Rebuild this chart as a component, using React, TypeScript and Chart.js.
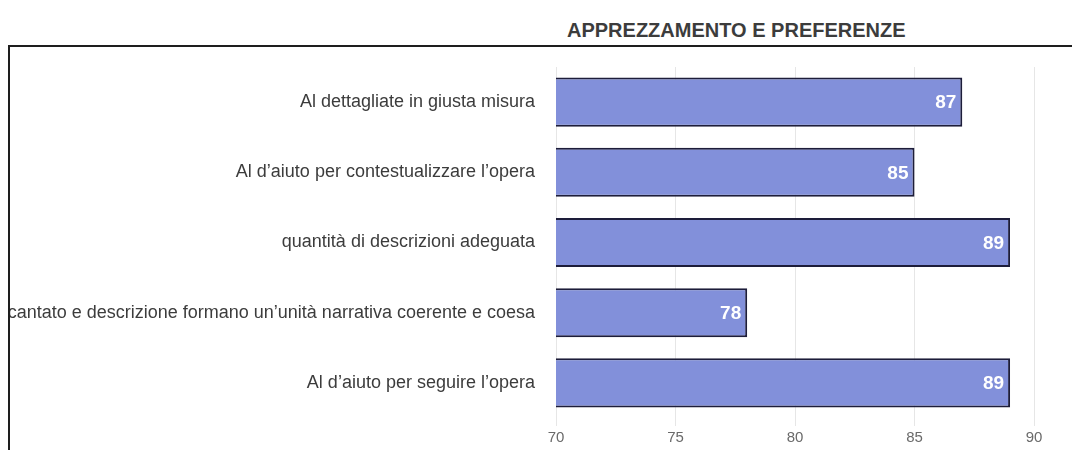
import React, { useEffect, useRef } from "react";
import { Chart, registerables } from "chart.js";

Chart.register(...registerables);

const TITLE = "APPREZZAMENTO E PREFERENZE";
const categories = [
  "Al dettagliate in giusta misura",
  "Al d\u2019aiuto per contestualizzare l\u2019opera",
  "quantità di descrizioni adeguata",
  "cantato e descrizione formano un\u2019unità narrativa coerente e coesa",
  "Al d\u2019aiuto per seguire l\u2019opera",
];
const values = [87, 85, 89, 78, 89];
const xMin = 70;
const xMax = 90;
const xStep = 5;

const FONT = "'Liberation Sans', Arial, Helvetica, sans-serif";

const valueLabelPlugin = {
  id: "valueLabels",
  afterDatasetsDraw(chart: any) {
    const ctx = chart.ctx;
    const meta = chart.getDatasetMeta(0);
    ctx.save();
    ctx.font = `bold 19px ${FONT}`;
    ctx.fillStyle = "#ffffff";
    ctx.textAlign = "right";
    ctx.textBaseline = "middle";
    meta.data.forEach((bar: any, i: number) => {
      ctx.fillText(String(values[i]), bar.x - 6, bar.y + 1);
    });
    ctx.restore();
  },
};

export default function App() {
  const canvasRef = useRef<HTMLCanvasElement | null>(null);

  useEffect(() => {
    document.documentElement.style.overflow = "hidden";
    const canvas = canvasRef.current;
    if (!canvas) return;
    const chart = new Chart(canvas, {
      type: "bar",
      data: {
        labels: categories,
        datasets: [
          {
            data: values,
            backgroundColor: "#8290da",
            borderColor: "#1d1d3a",
            borderWidth: 2,
            borderSkipped: false,
            barPercentage: 0.7,
            categoryPercentage: 1.0,
          },
        ],
      },
      options: {
        indexAxis: "y",
        animation: false,
        responsive: true,
        maintainAspectRatio: false,
        layout: { padding: { top: 20, right: 46, bottom: 0, left: 0 } },
        plugins: {
          legend: { display: false },
          tooltip: { enabled: false },
          title: { display: false },
        },
        scales: {
          x: {
            min: xMin,
            max: xMax,
            border: { display: false },
            grid: {
              color: "#e6e6e6",
              lineWidth: 1,
              drawTicks: true,
              tickLength: 8,
            },
            ticks: {
              stepSize: xStep,
              padding: 3,
              color: "#6a6a6a",
              font: { family: FONT, size: 15 },
            },
          },
          y: {
            border: { display: false },
            grid: { display: false, drawTicks: false },
            afterFit(scale: any) {
              scale.width = 546;
              scale.paddingTop = 0;
              scale.paddingBottom = 0;
            },
            ticks: {
              padding: 21,
              color: "#3c3c3c",
              font: { family: FONT, size: 18 },
            },
          },
        },
      },
      plugins: [valueLabelPlugin],
    });
    return () => chart.destroy();
  }, []);

  return (
    <div style={{ position: "relative", width: 1072, height: 442 }}>
      <div
        style={{
          height: 37,
          boxSizing: "border-box",
          paddingTop: 8,
          paddingLeft: 559,
          lineHeight: "28px",
          fontFamily: FONT,
          fontWeight: "bold",
          fontSize: 20,
          color: "#3c3c3c",
          whiteSpace: "nowrap",
        }}
      >
        {TITLE}
      </div>
      <div
        style={{
          borderTop: "2px solid #1e1e1e",
          borderLeft: "2px solid #1e1e1e",
          width: 1070,
          height: 403,
        }}
      >
        <div style={{ position: "relative", width: 1070, height: 403 }}>
          <canvas ref={canvasRef} />
        </div>
      </div>
    </div>
  );
}
